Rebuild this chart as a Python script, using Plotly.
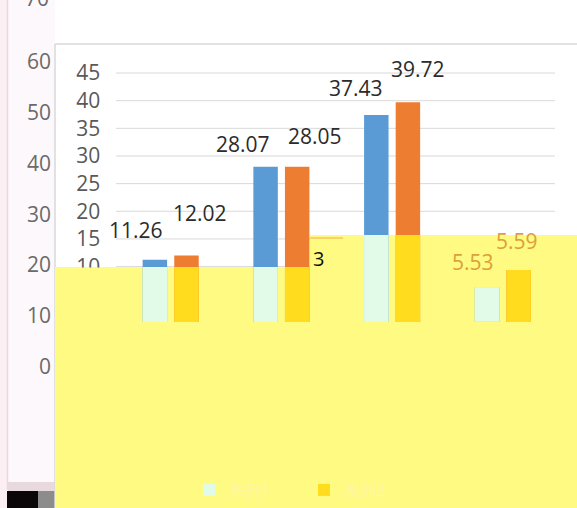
import plotly.graph_objects as go

# ---------------- data ----------------
categories = ["1", "2", "3", "4"]
series_names = ["系列1", "系列2"]
blue_values = [11.26, 28.07, 37.43, 6.3]
orange_values = [12.02, 28.05, 39.72, 9.4]
blue_labels = ["11.26", "28.07", "37.43", "5.53"]
orange_labels = ["12.02", "28.05", "39.72", "5.59"]
inner_ticks = [10, 15, 20, 25, 30, 35, 40, 45]
outer_ticks = [0, 10, 20, 30, 40, 50, 60]
outer_top_label = "70"

# ---------------- style ----------------
W, H = 577, 508
BLUE, ORANGE = "#5b9bd5", "#ed7d31"
BLUE_W, ORANGE_W = "#e2fbe8", "#ffdc1e"
YELLOW = "#fffa82"
GRID = "#d9d9d9"
FONT = "Open Sans"
BAR_W = 0.221
OFF_B, OFF_O = -0.2534, 0.032
cut = [9.93, 9.93, 15.7, 15.7]           # level where the yellow veil starts, per group
lab_dx_b = [-19, -23, -20, -14]
lab_dy_b = [30, 23, 27, 25]
lab_dx_o = [14, 18, 10, -2]
lab_dy_o = [42, 31, 33, 29]


def px(x):
    return x / W


def py(y):
    return 1 - y / H


fig = go.Figure()
idx = list(range(len(categories)))

fig.add_bar(x=categories, y=blue_values, name=series_names[0], marker_color=BLUE,
            offset=OFF_B, width=BAR_W, showlegend=False, marker_line_width=0)
fig.add_bar(x=categories, y=orange_values, name=series_names[1], marker_color=ORANGE,
            offset=OFF_O, width=BAR_W, showlegend=False, marker_line_width=0)
fig.add_bar(x=categories, y=[min(v, c) for v, c in zip(blue_values, cut)], name=series_names[0],
            marker_color=BLUE_W, offset=OFF_B, width=BAR_W, marker_line_width=0)
fig.add_bar(x=categories, y=[min(v, c) for v, c in zip(orange_values, cut)], name=series_names[1],
            marker_color=ORANGE_W, offset=OFF_O, width=BAR_W, marker_line_width=0)
# outer (background) axis holder
fig.add_scatter(x=[], y=[], xaxis="x2", yaxis="y2", showlegend=False)

shapes = []


def rect(x0, y0, x1, y1, color, layer="below"):
    shapes.append(dict(type="rect", xref="paper", yref="paper", x0=px(x0), x1=px(x1),
                       y0=py(y0), y1=py(y1), fillcolor=color, line_width=0, layer=layer))


def line(x0, y0, x1, y1, color, w=1, layer="below"):
    shapes.append(dict(type="line", xref="paper", yref="paper", x0=px(x0), x1=px(x1),
                       y0=py(y0), y1=py(y1), line=dict(color=color, width=w), layer=layer))


rect(0, 0, 7, 508, "#fbeff4")
rect(8, 0, 55, 482, "#fdf8fb")
line(7.5, 0, 7.5, 490, "#f0d3df", 1.5)
rect(8, 482, 55, 491, "#e8d9df")
rect(7, 491, 38, 508, "#0b0708")
rect(38, 491, 55, 508, "#8c8c8c")
line(55, 44, 577, 44, GRID, 1.5)
line(55, 44, 55, 508, GRID, 1.5)
for t in inner_ticks:
    shapes.append(dict(type="line", xref="paper", yref="y", x0=px(116), x1=px(555),
                       y0=t, y1=t, line=dict(color=GRID, width=1), layer="below"))
rect(55, 267, 577, 508, YELLOW)
rect(310, 235, 577, 267, YELLOW)
line(310, 238, 343, 238, "#f4a950", 1.2)
rect(55, 267.5, 135, 508, YELLOW, layer="above")

annotations = []
for i in idx:
    annotations.append(dict(x=i + OFF_B + BAR_W / 2, y=blue_values[i], xref="x", yref="y",
                            text=blue_labels[i], showarrow=False, xshift=lab_dx_b[i],
                            yshift=lab_dy_b[i], xanchor="center", yanchor="middle",
                            font=dict(family=FONT, size=21,
                                      color="#dca03a" if i == 3 else "#2b2b2b")))
    annotations.append(dict(x=i + OFF_O + BAR_W / 2, y=orange_values[i], xref="x", yref="y",
                            text=orange_labels[i], showarrow=False, xshift=lab_dx_o[i],
                            yshift=lab_dy_o[i], xanchor="center", yanchor="middle",
                            font=dict(family=FONT, size=21,
                                      color="#dca03a" if i == 3 else "#2b2b2b")))
annotations.append(dict(x=px(51), y=py(-2.5), xref="paper", yref="paper", text=outer_top_label,
                        showarrow=False, xanchor="right", yanchor="middle",
                        font=dict(family=FONT, size=21, color="#6a6a6a")))
annotations.append(dict(x=px(318), y=py(258), xref="paper", yref="paper", text="3",
                        showarrow=False, xanchor="center", yanchor="middle",
                        font=dict(family=FONT, size=20, color="#111111")))

fig.update_layout(
    width=W, height=H, margin=dict(l=0, r=0, t=0, b=0),
    paper_bgcolor="white", plot_bgcolor="rgba(0,0,0,0)",
    barmode="overlay", shapes=shapes, annotations=annotations,
    font=dict(family=FONT),
    xaxis=dict(domain=[px(115.35), px(558.2)], type="category", range=[-0.5, 3.5],
               showticklabels=False, showgrid=False, zeroline=False, showline=False, ticks=""),
    yaxis=dict(domain=[py(321.9), py(44)], range=[0, 50.25], tickvals=inner_ticks,
               showgrid=False, zeroline=False, showline=False, ticks="", ticklabelstandoff=14,
               tickfont=dict(family=FONT, size=21, color="#595959")),
    xaxis2=dict(domain=[px(55), px(570)], anchor="y2", visible=False, range=[0, 1]),
    yaxis2=dict(domain=[0, 1], anchor="x2", range=[(366.7 - 508) / 5.083, 366.7 / 5.083],
                tickvals=outer_ticks, showgrid=False, zeroline=False, showline=False,
                ticks="", ticklabelstandoff=3,
                tickfont=dict(family=FONT, size=21, color="#6a6a6a")),
    legend=dict(orientation="h", x=px(189), y=py(490), xanchor="left", yanchor="middle",
                bgcolor="rgba(0,0,0,0)", font=dict(family=FONT, size=16, color="#fff6a8"),
                entrywidth=70, entrywidthmode="pixels"),
)

fig.write_html("out.html", config={"displayModeBar": False},
               post_script="document.body.style.margin='0';document.body.style.overflow='hidden';")
